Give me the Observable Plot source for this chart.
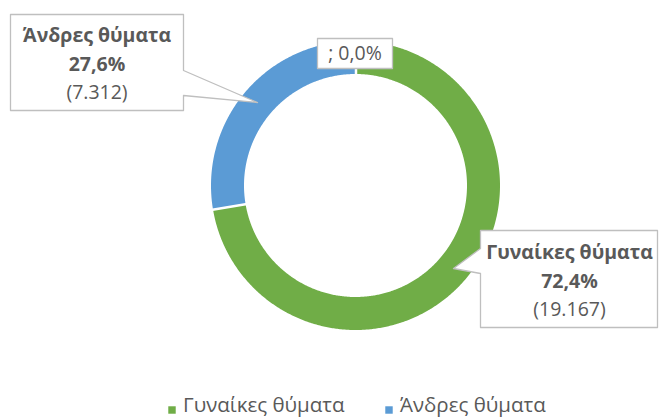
<!DOCTYPE html>
<html>
<head>
<meta charset="utf-8">
<script src="https://cdn.jsdelivr.net/npm/d3@7"></script>
<script src="https://cdn.jsdelivr.net/npm/@observablehq/plot@0.6"></script>
<style>
  html, body { margin: 0; padding: 0; background: #fff; }
  svg { display: block; }
</style>
</head>
<body>
<div id="chart"></div>
<script>
// ---- data ----
const categories = ["Γυναίκες θύματα", "Άνδρες θύματα", ""];
const values = [19167, 7312, 0];
const colors = ["#70ad47", "#5b9bd5", "#a5a5a5"];
const legendCategories = ["Γυναίκες θύματα", "Άνδρες θύματα"];

// ---- layout ----
const W = 659, H = 419;
const cx = 355.5, cy = 185.5, R = 144.5, r0 = 111.5;
const FONT = "Open Sans";
const TXT = "#595959";
const FS = 19.5;

const total = d3.sum(values);
const fmtPct = v => (v * 100).toFixed(1).replace(".", ",") + "%";
const fmtNum = v => d3.format(",")(v).replace(/,/g, ".");

const pie = d3.pie().sort(null).startAngle(0).endAngle(2 * Math.PI)(values);
const px = (a, rad) => cx + rad * Math.sin(a);
const py = (a, rad) => cy - rad * Math.cos(a);

// ring points for each slice
const ring = [];
pie.forEach((p, i) => {
  if (p.endAngle - p.startAngle <= 0) return;
  const n = Math.max(2, Math.ceil((p.endAngle - p.startAngle) / (Math.PI / 360)));
  for (let k = 0; k <= n; k++) {
    const a = p.startAngle + (p.endAngle - p.startAngle) * k / n;
    ring.push({cat: categories[i], x1: px(a, R), y1: py(a, R), x2: px(a, r0), y2: py(a, r0)});
  }
});
// separators at slice boundaries
const seps = pie.filter(p => p.endAngle - p.startAngle > 0).map(p => ({
  x1: px(p.startAngle, r0 - 1), y1: py(p.startAngle, r0 - 1),
  x2: px(p.startAngle, R + 1), y2: py(p.startAngle, R + 1)
}));

// callout boxes (layout)
function callout(box, tip, base) {
  const [x0, y0, x1, y1] = box;
  let pts;
  if (base.side === "right") {
    pts = [[x0,y0],[x1,y0],[x1,base.a],tip,[x1,base.b],[x1,y1],[x0,y1],[x0,y0]];
  } else if (base.side === "left") {
    pts = [[x0,y0],[x1,y0],[x1,y1],[x0,y1],[x0,base.b],tip,[x0,base.a],[x0,y0]];
  } else {
    pts = [[x0,y0],[x1,y0],[x1,y1],[x0,y1],[x0,y0]];
  }
  return pts.map(([x, y]) => ({x, y}));
}
const boxes = [
  {i: 0, pts: callout([480, 230, 657, 327], [453, 268], {side: "left", a: 248, b: 273}), tx: 569, ty: 236},
  {i: 1, pts: callout([10, 14, 183, 110], [257, 102], {side: "right", a: 70, b: 95}), tx: 96.5, ty: 19},
  {i: 2, pts: callout([317, 38, 392, 68], null, {side: "none"}), tx: 354.5, ty: 53}
];
const calloutPts = boxes.flatMap(b => b.pts.map(p => ({...p, id: b.i})));

const labelBold = [], labelNorm = [], labelZero = [];
boxes.forEach(b => {
  const v = values[b.i], name = categories[b.i];
  if (v === 0) {
    labelZero.push({x: b.tx, y: b.ty, t: `${name}; ${fmtPct(v / total)}`});
  } else {
    labelBold.push({x: b.tx, y: b.ty + 16.5, t: name});
    labelBold.push({x: b.tx, y: b.ty + 45, t: fmtPct(v / total)});
    labelNorm.push({x: b.tx, y: b.ty + 73.5, t: `(${fmtNum(v)})`});
  }
});

const legendX = [171.5, 388.5];
const legend = legendCategories.map((c, i) => ({
  cat: c, color: colors[categories.indexOf(c)], x: legendX[i], y: 408
}));

const chart = Plot.plot({
  width: W, height: H,
  margin: 0,
  x: {domain: [0, W], range: [0, W], axis: null},
  y: {domain: [0, H], range: [0, H], axis: null},
  color: {domain: categories, range: colors},
  style: {fontFamily: FONT, background: "white"},
  marks: [
    Plot.area(ring, {x1: "x1", y1: "y1", x2: "x2", y2: "y2", z: "cat", fill: "cat", curve: "linear"}),
    Plot.link(seps, {x1: "x1", y1: "y1", x2: "x2", y2: "y2", stroke: "white", strokeWidth: 2.5}),
    Plot.line(calloutPts, {x: "x", y: "y", z: "id", fill: "white", stroke: "#bfbfbf", strokeWidth: 1.3, curve: "linear"}),
    Plot.text(labelBold, {x: "x", y: "y", text: "t", fontWeight: "bold", fontSize: FS, fill: TXT, textAnchor: "middle", lineAnchor: "middle"}),
    Plot.text(labelNorm, {x: "x", y: "y", text: "t", fontSize: FS, fill: TXT, textAnchor: "middle", lineAnchor: "middle"}),
    Plot.text(labelZero, {x: "x", y: "y", text: "t", fontSize: FS, fill: TXT, textAnchor: "middle", lineAnchor: "middle"}),
    Plot.dot(legend, {x: "x", y: d => d.y + 1.5, fill: "color", symbol: "square", r: 4.2, stroke: null}),
    Plot.text(legend, {x: d => d.x + 11, y: d => d.y - 3, text: "cat", fontSize: 20.5, fill: TXT, textAnchor: "start", lineAnchor: "middle"})
  ]
});
document.getElementById("chart").appendChild(chart);
</script>
</body>
</html>
